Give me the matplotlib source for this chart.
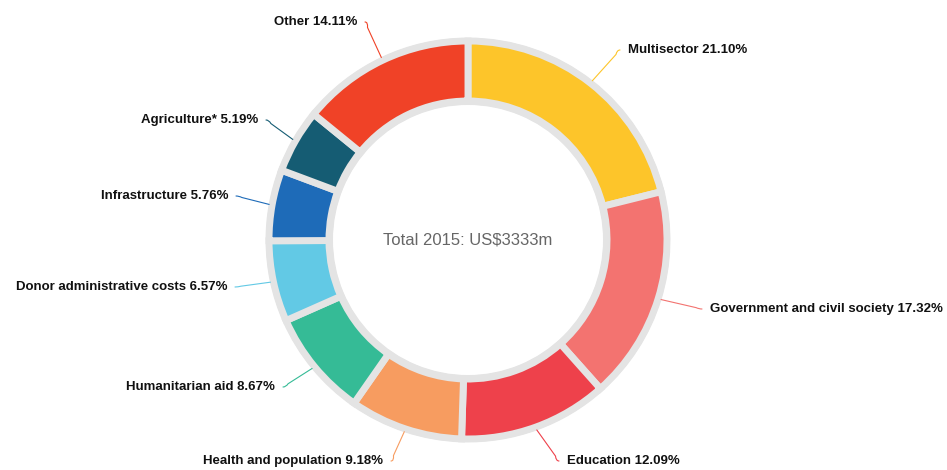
import numpy as np
import matplotlib
matplotlib.use("Agg")
import matplotlib.pyplot as plt
from matplotlib.path import Path
from matplotlib.patches import PathPatch

# sector shares of aid, 2015 (clockwise from 12 o'clock)
sectors = ["Multisector", "Government and civil society", "Education",
           "Health and population", "Humanitarian aid",
           "Donor administrative costs", "Infrastructure", "Agriculture*",
           "Other"]
shares = [21.10, 17.32, 12.09, 9.18, 8.67, 6.57, 5.76, 5.19, 14.11]
colors = ["#fdc52a", "#f37370", "#ee414b", "#f79c60", "#35bb96",
          "#62c9e5", "#1e6bb8", "#155c73", "#f04227"]
total_text = "Total 2015: US$3333m"

# label placement in pixel coords (x, y from top), side the text sits on
label_pos = [(628, 50, "left"), (710, 309, "left"), (567, 461, "left"),
             (383, 461, "right"), (275, 387, "right"), (227, 287, "right"),
             (228, 196, "right"), (258, 120, "right"), (357, 22, "right")]

W, H = 947, 470
CX, CY = 468, H - 240
RING = "#e4e4e4"

fig = plt.figure(figsize=(W / 100, H / 100), dpi=100)
ax = fig.add_axes([0, 0, 1, 1])

# grey backing ring
ax.pie([1], radius=202, center=(CX, CY), colors=[RING],
       wedgeprops=dict(width=67, linewidth=0))
# coloured segments, grey edges give the gaps
wedges, _ = ax.pie(shares, radius=199, center=(CX, CY), colors=colors,
                   startangle=90, counterclock=False,
                   wedgeprops=dict(width=60, edgecolor=RING, linewidth=5,
                                   joinstyle="miter"))

for w, name, val, col, (lx, ly, side) in zip(wedges, sectors, shares,
                                               colors, label_pos):
    ang = np.deg2rad((w.theta1 + w.theta2) / 2)
    sx = CX + 202 * np.cos(ang)
    sy = CY + 202 * np.sin(ang)
    ty = H - ly
    d = -1 if side == "left" else 1
    ex = lx + d * 8
    # straight run towards the label, then a short curved hook
    vx, vy = ex - sx, ty - sy
    n = np.hypot(vx, vy)
    px, py = ex - vx / n * 6, ty - vy / n * 6
    cx_, cy_ = ex + d * 3, ty
    verts = [(sx, sy), (px, py), (cx_, cy_), (ex, ty)]
    codes = [Path.MOVETO, Path.LINETO, Path.CURVE3, Path.CURVE3]
    ax.add_patch(PathPatch(Path(verts, codes), fill=False, edgecolor=col,
                           lw=0.8, capstyle="round"))
    ax.text(lx, ty, "%s %.2f%%" % (name, val), ha=side, va="center",
            fontsize=9.5, fontweight="bold", family="Liberation Sans",
            color="#111111")

ax.text(CX, CY, total_text, ha="center", va="center", fontsize=12,
        family="Liberation Sans", color="#666666")

ax.set_xlim(0, W)
ax.set_ylim(0, H)
ax.set_aspect("equal")
ax.axis("off")
fig.savefig("out.png", dpi=100, facecolor="white")
